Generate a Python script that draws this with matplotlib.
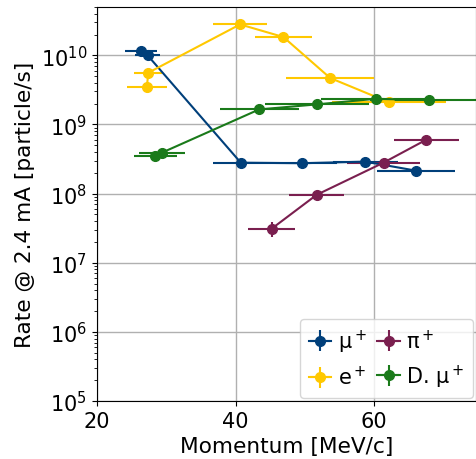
"""Rate vs momentum for the beamline particle species."""

import matplotlib
matplotlib.use("Agg")
import matplotlib.pyplot as plt
import numpy as np

# mu+
MU_P = [26.35, 27.3, 40.75, 49.65, 58.7, 66.0]
MU_PERR = [2.3, 1.8, 4.0, 5.0, 4.7, 5.6]
MU_RATE = [1.15e10, 1.0e10, 2.8e8, 2.75e8, 2.9e8, 2.15e8]

# e+
E_P = [27.2, 27.4, 40.65, 46.9, 53.65, 62.1]
E_PERR = [2.9, 2.0, 3.9, 4.1, 6.4, 8.2]
E_RATE = [3.5e9, 5.6e9, 2.8e10, 1.84e10, 4.7e9, 2.1e9]

# pi+
PI_P = [45.2, 51.7, 61.35, 67.5]
PI_PERR = [3.4, 4.0, 5.3, 4.7]
PI_RATE = [3.1e7, 9.6e7, 2.8e8, 6.0e8]
PI_RERR = [0.75e7, 0.4e7, 0.1e8, 0.2e8]

# decay mu+
DMU_P = [28.4, 29.35, 43.4, 51.7, 60.2, 67.85]
DMU_PERR = [3.1, 3.3, 5.7, 7.5, 7.8, 8.5]
DMU_RATE = [3.5e8, 3.9e8, 1.65e9, 1.95e9, 2.35e9, 2.25e9]

SERIES = [
    ("μ$^+$", MU_P, MU_PERR, MU_RATE, None, "#003f7a"),
    ("e$^+$", E_P, E_PERR, E_RATE, None, "#ffc800"),
    ("π$^+$", PI_P, PI_PERR, PI_RATE, PI_RERR, "#7a1f4f"),
    ("D. μ$^+$", DMU_P, DMU_PERR, DMU_RATE, None, "#1a7a1a"),
]


def main() -> None:
    plt.rcParams["font.size"] = 15
    fig = plt.figure(figsize=(4.76, 4.60), dpi=100)
    ax = fig.add_axes([97 / 476, 58 / 460, 379 / 476, 394 / 460])
    for label, p, perr, rate, rerr, color in SERIES:
        if rerr is None:
            rerr = np.zeros(len(rate))
        ax.errorbar(p, rate, xerr=perr, yerr=rerr, fmt="o-", color=color,
                    markersize=7, linewidth=1.5, elinewidth=1.5, label=label)
    ax.set_yscale("log")
    ax.set_xlim(20, 74.7)
    ax.set_ylim(1e5, 5e10)
    ax.set_xticks([20, 40, 60])
    ax.grid(True, which="major", color="#b0b0b0", linewidth=1)
    ax.set_axisbelow(True)
    ax.set_xlabel("Momentum [MeV/c]", fontsize=15.6)
    ax.set_ylabel("Rate @ 2.4 mA [particle/s]", fontsize=15.6)
    ax.legend(ncol=2, loc="lower right", handlelength=1.1, columnspacing=0.5,
              handletextpad=0.3, borderpad=0.4, borderaxespad=0.15, fontsize=15)
    fig.savefig("out.png", dpi=100)
    plt.close(fig)


if __name__ == "__main__":
    main()
